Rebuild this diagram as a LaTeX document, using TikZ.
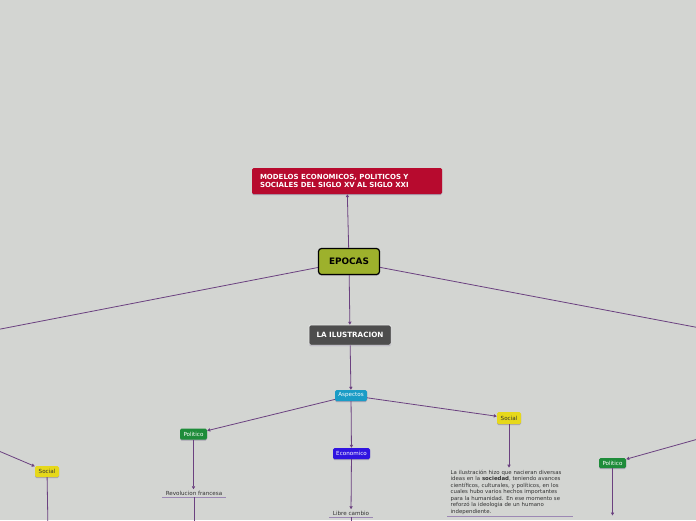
\documentclass[tikz,border=0pt]{standalone}
\usepackage{fontspec}
\setmainfont{DejaVu Sans}
\usetikzlibrary{arrows.meta,shadows}
\definecolor{bgc}{HTML}{D3D5D2}
\definecolor{link}{HTML}{6B4180}
\definecolor{uline}{HTML}{9C88B4}
\definecolor{shade}{HTML}{A8A3B3}
\definecolor{redc}{HTML}{B70A2E}
\definecolor{olive}{HTML}{9DB12C}
\definecolor{darkc}{HTML}{4D4D4D}
\definecolor{cyanc}{HTML}{1A9CC6}
\definecolor{greenc}{HTML}{1E8C3A}
\definecolor{bluec}{HTML}{3014E0}
\definecolor{yellowc}{HTML}{E6D81A}
\definecolor{leaftext}{HTML}{333333}

\begin{document}
\begin{tikzpicture}[x=1pt,y=-1pt,
  box/.style={rounded corners=1.5pt,inner sep=0pt,align=center,text=white,
    font=\fontsize{5.6}{6.5}\selectfont,
    drop shadow={shadow xshift=0pt,shadow yshift=-1.2pt,fill=shade,opacity=1}},
  leaf/.style={inner sep=1.5pt,text=leaftext,font=\fontsize{5.6}{6.5}\selectfont},
  arr/.style={-{Triangle[length=3pt,width=3.2pt]},line width=0.8pt,draw=link},
  lnk/.style={line width=0.8pt,draw=link},
  under/.style={line width=0.7pt,draw=uline}
]
\fill[bgc] (0,0) rectangle (696,520);
\useasboundingbox (0,0) rectangle (696,520);
\clip (0,0) rectangle (696,520);

% main nodes
\node[box,fill=redc,minimum width=190pt,minimum height=26pt,align=left,
  text width=174pt,inner xsep=8pt,
  font=\bfseries\fontsize{7}{8}\selectfont] (title) at (347,181)
  {MODELOS ECONOMICOS, POLITICOS Y\\SOCIALES DEL SIGLO XV AL SIGLO XXI};
\node[box,fill=olive,draw=black,line width=1.2pt,rounded corners=3pt,text=black,
  minimum width=61pt,minimum height=26pt,font=\bfseries\fontsize{8.9}{10}\selectfont] (epocas) at (349,261.5) {EPOCAS};
\node[box,fill=darkc,draw=white,line width=0.5pt,minimum width=82pt,minimum height=20pt,
  font=\bfseries\fontsize{7.2}{8}\selectfont] (ilus) at (350,335) {LA ILUSTRACION};
\node[box,fill=cyanc,minimum width=32pt,minimum height=11pt] (asp) at (351,395.5) {Aspectos};
\node[box,fill=greenc,minimum width=27pt,minimum height=11pt] (pol) at (193.5,434) {Politico};
\node[box,fill=bluec,minimum width=37pt,minimum height=11pt] (eco) at (351.5,453.5) {Economico};
\node[box,fill=yellowc,text=black!80,minimum width=24pt,minimum height=12pt] (soc) at (509,418) {Social};
\node[box,fill=yellowc,text=black!80,minimum width=24pt,minimum height=11pt] (socl) at (47,471.5) {Social};
\node[box,fill=greenc,minimum width=27pt,minimum height=10pt] (polr) at (612.5,463) {Politico};

% leaves
\node[leaf,minimum width=64pt,anchor=south] (revol) at (194,497) {Revolucion francesa};
\node[leaf,minimum width=44pt,anchor=south] (libre) at (351,517) {Libre cambio};
\node[leaf,anchor=south west,align=left,text width=119pt,inner xsep=3.5pt,inner ysep=2pt,
  font=\fontsize{5.4}{6.5}\selectfont] (desc) at (447,516.5)
  {La ilustración hizo que nacieran diversas\\
   ideas en la \textbf{sociedad}, teniendo avances\\
   científicos, culturales, y políticos, en los\\
   cuales hubo varios hechos importantes\\
   para la humanidad. En ese momento se\\
   reforzó la ideologia de un humano\\
   independiente.};
\draw[under] (revol.south west) -- (revol.south east);
\draw[under] (libre.south west) -- (libre.south east);
\draw[under] (desc.south west) -- (desc.south east);

% branches leaving the view
\coordinate (offl) at (-20,333);
\coordinate (offr) at (716,331);
\coordinate (offsl) at (-20,443);
\coordinate (offsd) at (48,530);
\coordinate (offpr) at (716,434);
\coordinate (endpr) at (612.5,515.5);
\coordinate (offrv) at (194,530);
\coordinate (offlc) at (351,530);

% connectors
\draw[arr] (epocas) -- (title);
\draw[arr] (epocas) -- (ilus);
\draw[lnk] (epocas) -- (offl);
\draw[lnk] (epocas) -- (offr);
\draw[arr] (ilus) -- (asp);
\draw[arr] (asp) -- (pol);
\draw[arr] (asp) -- (eco);
\draw[arr] (asp) -- (soc);
\draw[arr] (pol.south) -- (revol.north -| pol.south);
\draw[arr] (eco) -- (libre);
\draw[arr] (soc) -- (soc |- desc.north);
\draw[arr] (offsl) -- (socl);
\draw[lnk] (socl) -- (offsd);
\draw[arr] (offpr) -- (polr);
\draw[arr] (polr) -- (endpr);
\draw[lnk] (revol.south) -- (offrv);
\draw[lnk] (libre.south) -- (offlc);
\end{tikzpicture}
\end{document}
